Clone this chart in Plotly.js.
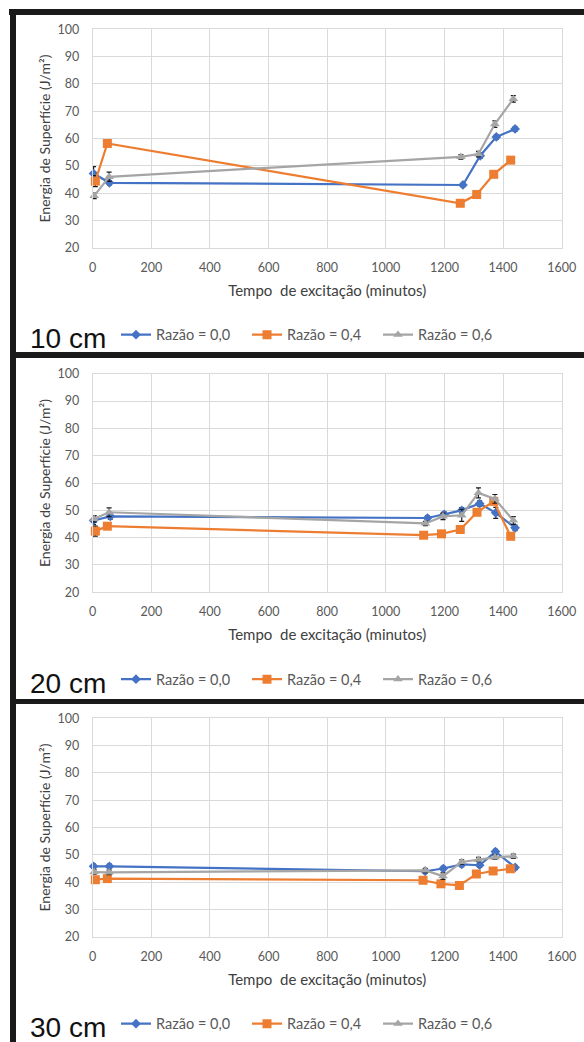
<!DOCTYPE html>
<html>
<head>
<meta charset="utf-8">
<script src="https://cdn.plot.ly/plotly-3.0.1.min.js"></script>
<style>
  html, body { margin: 0; padding: 0; background: #ffffff; }
  #chart { width: 584px; height: 1042px; }
</style>
</head>
<body>
<div id="chart"></div>
<script>
// ---------------- DATA ----------------
const seriesNames = ['Razão = 0,0', 'Razão = 0,4', 'Razão = 0,6'];
const panelLabels = ['10 cm', '20 cm', '30 cm'];
const xTitle = 'Tempo  de excitação (minutos)';
const yTitle = 'Energia de Superfície (J/m²)';

// 10 cm
const t10_r00 = [3, 57, 1263, 1322, 1377, 1441];
const e10_r00 = [47.2, 43.8, 43.0, 53.7, 60.6, 63.5];
const s10_r00 = [2.5, 0.8, 0.6, 1.0, 0.8, 0.8];
const t10_r04 = [9, 50, 1254, 1310, 1368, 1426];
const e10_r04 = [44.4, 58.2, 36.3, 39.5, 46.9, 52.1];
const s10_r04 = [2.0, 0.6, 0.6, 0.6, 0.6, 0.6];
const t10_r06 = [5, 56, 1256, 1316, 1372, 1435];
const e10_r06 = [39.0, 46.0, 53.3, 54.3, 65.3, 74.5];
const s10_r06 = [1.0, 1.7, 0.8, 1.0, 1.2, 1.2];

// 20 cm
const t20_r00 = [3, 60, 1142, 1199, 1259, 1320, 1375, 1441];
const e20_r00 = [46.3, 47.8, 47.2, 48.5, 50.0, 52.5, 49.1, 43.6];
const s20_r00 = [1.5, 1.0, 0.8, 1.0, 1.0, 1.0, 2.0, 1.0];
const t20_r04 = [9, 50, 1129, 1190, 1254, 1311, 1368, 1426];
const e20_r04 = [42.4, 44.2, 40.9, 41.4, 43.0, 49.3, 53.3, 40.5];
const s20_r04 = [1.8, 0.5, 0.5, 0.5, 1.2, 0.8, 1.0, 0.5];
const t20_r06 = [5, 56, 1135, 1195, 1259, 1316, 1372, 1435];
const e20_r06 = [46.9, 49.3, 45.2, 47.8, 48.2, 56.4, 54.2, 46.3];
const s20_r06 = [1.2, 1.6, 0.8, 1.2, 2.2, 1.8, 1.6, 1.4];

// 30 cm
const t30_r00 = [3, 57, 1134, 1196, 1259, 1320, 1374, 1441];
const e30_r00 = [45.8, 45.8, 44.0, 45.0, 46.5, 46.2, 51.2, 45.4];
const s30_r00 = [0.8, 0.8, 0.8, 0.8, 0.8, 0.8, 0.8, 0.8];
const t30_r04 = [9, 50, 1127, 1188, 1251, 1309, 1366, 1425];
const e30_r04 = [40.9, 41.3, 40.7, 39.4, 38.8, 43.0, 44.1, 44.9];
const s30_r04 = [0.6, 0.6, 0.6, 0.6, 0.6, 0.6, 0.6, 0.6];
const t30_r06 = [5, 56, 1135, 1195, 1259, 1316, 1372, 1435];
const e30_r06 = [43.7, 43.6, 44.3, 42.2, 47.4, 48.3, 49.1, 49.5];
const s30_r06 = [0.8, 0.8, 0.8, 1.2, 0.8, 0.8, 0.8, 0.8];

// ---------------- STYLE ----------------
const W = 584, H = 1042;
const colors = ['#4472C4', '#ED7D31', '#A5A5A5'];
const symbols = ['diamond', 'square', 'triangle-up'];
const msizes = [7.5, 9, 8.5];
const textColor = '#595959';
const titleColor = '#404040';
const gridColor = '#D9D9D9';
const fontFam = 'Lato, "Open Sans", sans-serif';

const px = v => v / W;
const py = v => 1 - v / H;

const plotLeft = 92.7, plotRight = 561.7;
const panelTop = [29.3, 373.8, 718.3];
const plotH = 218.5;

const panels = [
  [[t10_r00, e10_r00, s10_r00], [t10_r04, e10_r04, s10_r04], [t10_r06, e10_r06, s10_r06]],
  [[t20_r00, e20_r00, s20_r00], [t20_r04, e20_r04, s20_r04], [t20_r06, e20_r06, s20_r06]],
  [[t30_r00, e30_r00, s30_r00], [t30_r04, e30_r04, s30_r04], [t30_r06, e30_r06, s30_r06]]
];

const traces = [];
const layout = {
  width: W, height: H,
  margin: {l: 0, r: 0, t: 0, b: 0},
  paper_bgcolor: '#ffffff',
  plot_bgcolor: '#ffffff',
  font: {family: fontFam, color: textColor},
  shapes: [],
  annotations: []
};

panels.forEach((panel, p) => {
  const sfx = p === 0 ? '' : String(p + 1);
  const legName = 'legend' + sfx;
  panel.forEach((ser, i) => {
    traces.push({
      type: 'scatter', mode: 'lines+markers',
      x: ser[0], y: ser[1],
      name: seriesNames[i],
      xaxis: 'x' + sfx, yaxis: 'y' + sfx,
      legend: legName,
      line: {color: colors[i], width: 2.2},
      marker: {color: colors[i], symbol: symbols[i], size: msizes[i]},
      error_y: {type: 'data', array: ser[2], visible: true, color: '#1a1a1a', thickness: 1.2, width: 2.5},
      cliponaxis: false
    });
  });
  const top = panelTop[p], bot = top + plotH;
  layout['xaxis' + sfx] = {
    domain: [px(plotLeft), px(plotRight)],
    anchor: 'y' + sfx,
    range: [0, 1600], tick0: 0, dtick: 200,
    showgrid: true, gridcolor: gridColor, gridwidth: 1,
    zeroline: false, showline: true, mirror: true, linecolor: gridColor, linewidth: 1,
    ticks: '', ticklabelstandoff: 8,
    tickfont: {family: fontFam, size: 12.5, color: textColor},
    title: {text: xTitle, font: {family: fontFam, size: 15, color: titleColor}, standoff: 11},
    fixedrange: true
  };
  layout['yaxis' + sfx] = {
    domain: [py(bot), py(top)],
    anchor: 'x' + sfx,
    range: [20, 100], tick0: 20, dtick: 10,
    showgrid: true, gridcolor: gridColor, gridwidth: 1,
    zeroline: false, showline: true, mirror: true, linecolor: gridColor, linewidth: 1,
    ticks: '', ticklabelstandoff: 10,
    tickfont: {family: fontFam, size: 12.5, color: textColor},
    title: {text: yTitle, font: {family: fontFam, size: 14, color: titleColor}, standoff: 3},
    fixedrange: true
  };
  layout[legName] = {
    orientation: 'h',
    x: px(116), xanchor: 'left',
    y: py(bot + 87), yanchor: 'middle',
    bgcolor: 'rgba(0,0,0,0)',
    font: {family: fontFam, size: 14.5, color: textColor},
    entrywidth: 86, entrywidthmode: 'pixels',
    itemclick: false, itemdoubleclick: false,
    traceorder: 'normal'
  };
  layout.annotations.push({
    xref: 'paper', yref: 'paper',
    x: px(28), y: py(bot + 91), xanchor: 'left', yanchor: 'middle',
    text: panelLabels[p], showarrow: false,
    font: {family: '"Liberation Sans", Arial, sans-serif', size: 28, color: '#111111'}
  });
});

// black frame lines
const rect = (x0, y0, x1, y1) => ({
  type: 'rect', xref: 'paper', yref: 'paper', layer: 'above',
  x0: px(x0), x1: px(x1), y0: py(y1), y1: py(y0),
  fillcolor: '#1a1a1a', line: {width: 0}
});
layout.shapes.push(rect(9, 9, 584, 15));
layout.shapes.push(rect(10, 9, 16, 1042));
layout.shapes.push(rect(10, 352, 584, 358));
layout.shapes.push(rect(10, 699, 584, 704));

Plotly.newPlot('chart', traces, layout, {displayModeBar: false, staticPlot: true});
</script>
</body>
</html>
